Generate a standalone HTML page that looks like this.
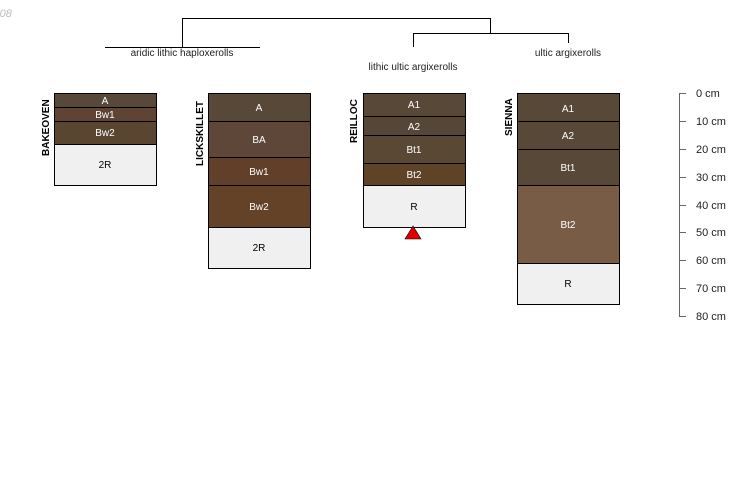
<!DOCTYPE html>
<html><head><meta charset="utf-8"><style>
html,body{margin:0;padding:0;background:#fff;}
svg{display:block;font-family:"Liberation Sans",sans-serif;}
</style></head><body>
<svg width="750" height="500" viewBox="0 0 750 500" xmlns="http://www.w3.org/2000/svg">
<text x="-4" y="17" font-size="11" fill="#bbb" font-style="italic">-08</text>
<g stroke="#000" stroke-width="1" fill="none">
<path d="M182.5 47V18.5H490.5V33"/>
<path d="M105 47.5H260"/>
<path d="M413.5 47V33.5H568.5V43"/>
</g>
<g font-size="10" fill="#222" text-anchor="middle">
<text x="182" y="56">aridic lithic haploxerolls</text>
<text x="413" y="70">lithic ultic argixerolls</text>
<text x="568" y="56">ultic argixerolls</text>
</g>
<g stroke="#000" stroke-width="1" font-size="10" text-anchor="middle">
<rect x="54.5" y="93.5" width="102" height="14" fill="#574838"/>
<rect x="54.5" y="107.5" width="102" height="14" fill="#5f4433"/>
<rect x="54.5" y="121.5" width="102" height="23" fill="#5a4630"/>
<rect x="54.5" y="144.5" width="102" height="41" fill="#f0f0f0"/>
<rect x="208.5" y="93.5" width="102" height="28" fill="#574838"/>
<rect x="208.5" y="121.5" width="102" height="36" fill="#5e4638"/>
<rect x="208.5" y="157.5" width="102" height="28" fill="#613f28"/>
<rect x="208.5" y="185.5" width="102" height="42" fill="#644228"/>
<rect x="208.5" y="227.5" width="102" height="41" fill="#f0f0f0"/>
<rect x="363.5" y="93.5" width="102" height="23" fill="#574838"/>
<rect x="363.5" y="116.5" width="102" height="19" fill="#564637"/>
<rect x="363.5" y="135.5" width="102" height="28" fill="#594833"/>
<rect x="363.5" y="163.5" width="102" height="22" fill="#5f4326"/>
<rect x="363.5" y="185.5" width="102" height="42" fill="#f0f0f0"/>
<rect x="517.5" y="93.5" width="102" height="28" fill="#574838"/>
<rect x="517.5" y="121.5" width="102" height="28" fill="#574838"/>
<rect x="517.5" y="149.5" width="102" height="36" fill="#574838"/>
<rect x="517.5" y="185.5" width="102" height="78" fill="#785c45"/>
<rect x="517.5" y="263.5" width="102" height="41" fill="#f0f0f0"/>
</g>
<polygon points="413,226 405,239 421,239" fill="#e00000" stroke="#000" stroke-width="0.6"/>
<g font-size="10" text-anchor="middle" fill="#fff">
<text x="105" y="104">A</text><text x="105" y="118">Bw1</text><text x="105" y="136">Bw2</text>
<text x="105" y="168" fill="#000">2R</text>
<text x="259" y="111">A</text><text x="259" y="143">BA</text><text x="259" y="175">Bw1</text><text x="259" y="210">Bw2</text>
<text x="259" y="251" fill="#000">2R</text>
<text x="414" y="108">A1</text><text x="414" y="130">A2</text><text x="414" y="153">Bt1</text><text x="414" y="178">Bt2</text>
<text x="414" y="210" fill="#000">R</text>
<text x="568" y="112">A1</text><text x="568" y="139">A2</text><text x="568" y="171">Bt1</text><text x="568" y="228">Bt2</text>
<text x="568" y="287" fill="#000">R</text>
</g>
<g font-size="10" font-weight="bold" fill="#000">
<text transform="translate(49,156) rotate(-90)">BAKEOVEN</text>
<text transform="translate(203,166) rotate(-90)">LICKSKILLET</text>
<text transform="translate(357,143) rotate(-90)">REILLOC</text>
<text transform="translate(512,136) rotate(-90)">SIENNA</text>
</g>
<g stroke="#666" stroke-width="1">
<path d="M679.5 93V316"/>
<path d="M679 93.5H686M679 121.5H686M679 149.5H686M679 177.5H686M679 205.5H686M679 232.5H686M679 260.5H686M679 288.5H686M679 316.5H686"/>
</g>
<g font-size="11" fill="#222">
<text x="696" y="97">0 cm</text><text x="696" y="125">10 cm</text><text x="696" y="153">20 cm</text>
<text x="696" y="181">30 cm</text><text x="696" y="209">40 cm</text><text x="696" y="236">50 cm</text>
<text x="696" y="264">60 cm</text><text x="696" y="292">70 cm</text><text x="696" y="320">80 cm</text>
</g>
</svg>
</body></html>
